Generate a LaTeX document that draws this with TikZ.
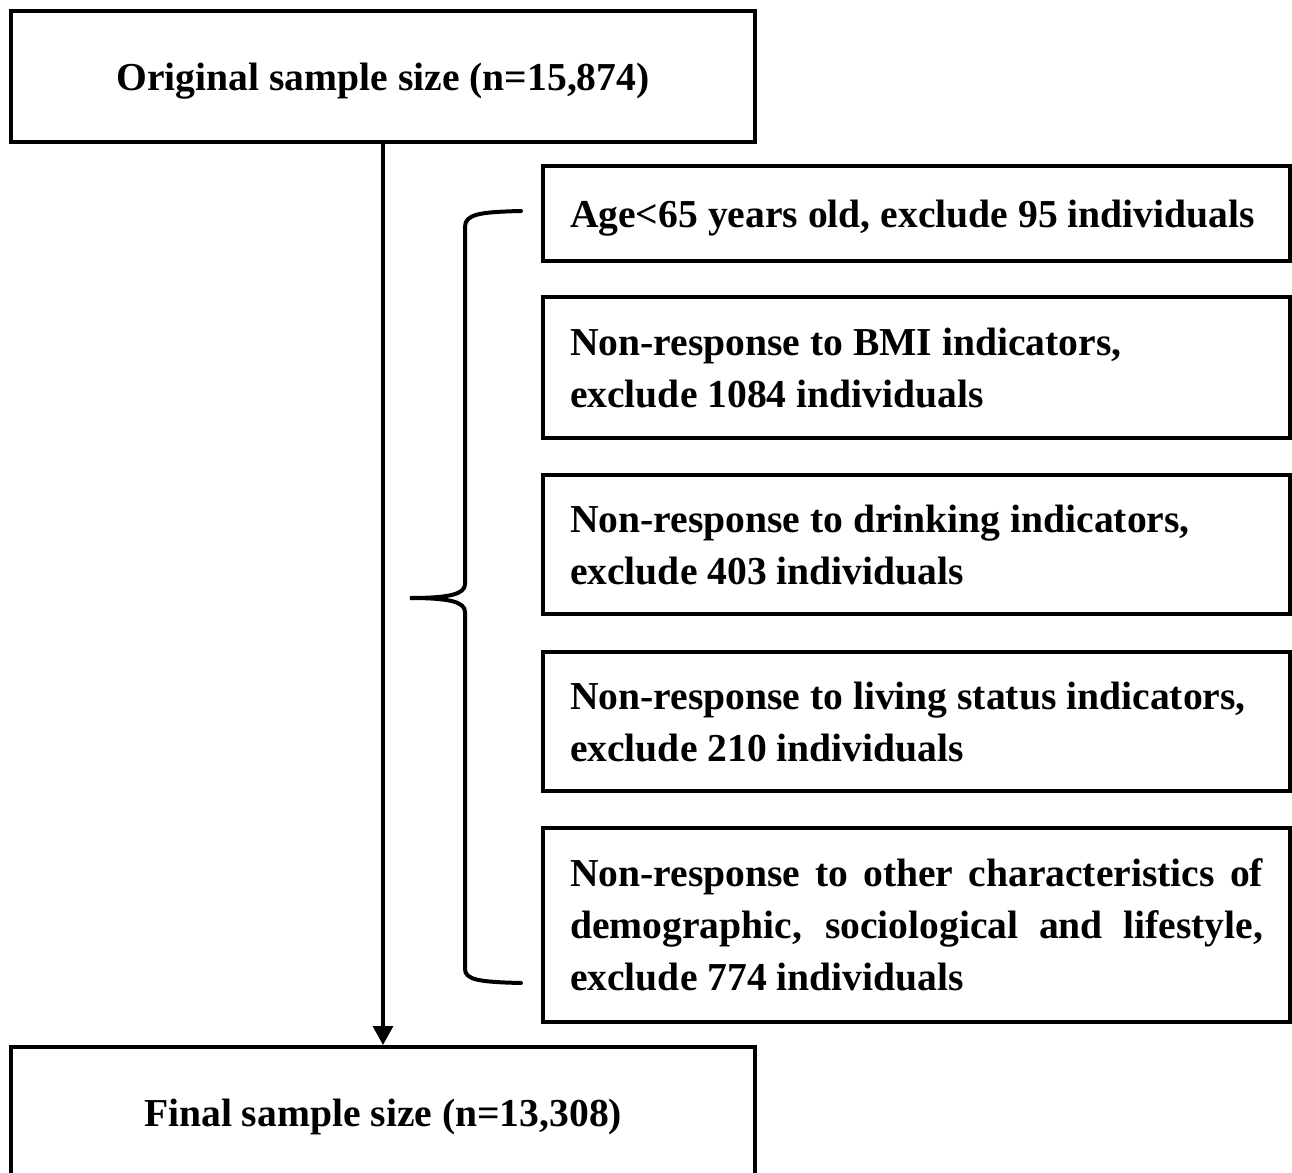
\documentclass[tikz,border=0pt]{standalone}
\usepackage{fontspec}
\setmainfont{Liberation Serif}
\usetikzlibrary{arrows.meta}
\begin{document}
\begin{tikzpicture}[x=0.5pt,y=-0.5pt,
  bigbox/.style={draw,line width=2pt,minimum width=372pt,minimum height=65.5pt,inner sep=0pt,
    text height=15pt,text depth=0.6pt,
    font=\fontsize{19.8}{26}\selectfont\bfseries},
  exbox/.style={draw,line width=1.8pt,minimum width=373.5pt,text width=346.5pt,inner xsep=13.5pt,inner ysep=0pt,
    align=flush left,font=\fontsize{19.8}{26}\selectfont\bfseries},
  flow/.style={line width=1.6pt,-{Triangle[width=10pt,length=9.5pt]}},
  bracestyle/.style={line width=2pt,line cap=round}]
\useasboundingbox (0,0) rectangle (1292,1173);
\node[bigbox] (orig) at (383,76.5) {Original sample size (n=15,874)};
\node[bigbox] (final) at (383,1112.5) {Final sample size (n=13,308)};
\node[exbox,minimum height=47.5pt,text height=13.5pt,text depth=0pt] (e1) at (916.5,213.5) {\mbox{Age<65 years old, exclude 95 individuals}};
\node[exbox,minimum height=70.5pt] (e2) at (916.5,367.5) {Non-response to BMI indicators,\\exclude 1084 individuals};
\node[exbox,minimum height=69.5pt] (e3) at (916.5,544.5) {Non-response to drinking indicators,\\exclude 403 individuals};
\node[exbox,minimum height=69.5pt] (e4) at (916.5,721.5) {Non-response to living status indicators,\\exclude 210 individuals};
\node[exbox,minimum height=97pt,align=justify] (e5) at (916.5,925) {Non-response to other characteristics of\linebreak demographic, sociological and lifestyle,\linebreak exclude 774 individuals};
\draw[flow] (orig.south) -- (final.north);
\coordinate (btop) at (521,211);
\coordinate (btip) at (410,598);
\coordinate (bbot) at (521,983);
\draw[bracestyle] (btop) .. controls (480,212) and (465,214) .. (465,227)
  -- (465,584) .. controls (465,594) and (450,598) .. (btip)
  .. controls (450,598) and (465,602) .. (465,612)
  -- (465,969) .. controls (465,980) and (480,982) .. (bbot);
\end{tikzpicture}
\end{document}
